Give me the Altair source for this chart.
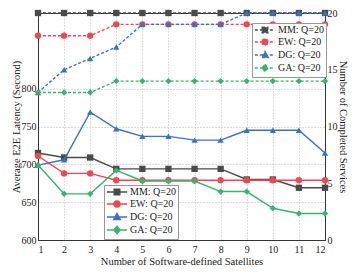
import altair as alt
import pandas as pd

sats = list(range(1, 13))
series = ["MM: Q=20", "EW: Q=20", "DG: Q=20", "GA: Q=20"]
colors = ["#4a4a4a", "#ef4650", "#3a72c2", "#3bb26e"]
shapes = ["square", "circle", "triangle-up", "diamond"]

# latency (left axis, solid lines)
mm_lat = [715, 709, 709, 694, 694, 694, 694, 694, 680, 680, 669, 669]
ew_lat = [711, 688, 688, 679, 679, 679, 679, 679, 679, 679, 679, 679]
dg_lat = [699, 706, 769, 747, 737, 737, 732, 732, 745, 745, 745, 715]
ga_lat = [699, 661, 661, 692, 678, 678, 678, 664, 664, 642, 635, 635]

# completed services (right axis, dashed lines)
mm_srv = [20, 20, 20, 20, 20, 20, 20, 20, 20, 20, 20, 20]
ew_srv = [18, 18, 18, 19, 19, 19, 19, 19, 19, 19, 19, 19]
dg_srv = [13, 15, 16, 17, 19, 19, 19, 19, 20, 20, 20, 20]
ga_srv = [13, 13, 13, 14, 14, 14, 14, 14, 14, 14, 14, 14]

lat_ticks = [600, 650, 700, 750, 800]
srv_ticks = [0, 5, 10, 15, 20]

rows = []
for s, lat, srv in zip(series, [mm_lat, ew_lat, dg_lat, ga_lat], [mm_srv, ew_srv, dg_srv, ga_srv]):
    for x, a, b in zip(sats, lat, srv):
        rows.append({"sat": x, "series": s, "lat": a, "srv": b})
df = pd.DataFrame(rows)

FONT = "Liberation Serif"

# legend symbols: a short line with the marker on it
legend_paths = [
    "M-2.9,0H2.9M-0.8,-0.8H0.8V0.8H-0.8Z",
    "M-2.9,0H2.9M-0.9,0A0.9,0.9 0 1,0 0.9,0A0.9,0.9 0 1,0 -0.9,0Z",
    "M-2.9,0H2.9M0,-1L0.95,0.75H-0.95Z",
    "M-2.9,0H2.9M0,-1.05L0.9,0L0,1.05L-0.9,0Z",
]

x_enc = alt.X("sat:Q", scale=alt.Scale(domain=[1, 12], nice=False),
              axis=alt.Axis(values=sats, title="Number of Software-defined Satellites",
                            grid=True, gridDash=[1, 2], gridColor="#bbbbbb",
                            ticks=False, labelPadding=4, titlePadding=2))

def group(field, dom, ticks, orient, title, dash, lx, ly, grid):
    y_enc = alt.Y(f"{field}:Q", scale=alt.Scale(domain=dom, nice=False),
                  axis=alt.Axis(values=ticks, orient=orient, title=title, grid=grid,
                                gridDash=[1, 2], gridColor="#bbbbbb", ticks=False,
                                labelPadding=2, titlePadding=0))
    base = alt.Chart(df)
    layers = []
    for s, shp, col in zip(series, shapes, colors):
        sub = base.transform_filter(alt.datum.series == s)
        line_kw = {"strokeWidth": 1.4, "color": col}
        if dash:
            line_kw["strokeDash"] = [3, 2]
        layers.append(sub.mark_line(**line_kw).encode(x=x_enc, y=y_enc))
        layers.append(sub.mark_point(shape=shp, filled=True, size=40, opacity=1,
                                     color=col).encode(x=x_enc, y=y_enc))
    leg = alt.Legend(title=None, orient="none", legendX=lx, legendY=ly,
                     symbolSize=49, symbolStrokeWidth=1.4, symbolOpacity=1,
                     symbolOffset=6, labelOffset=8,
                     labelFont=FONT, labelFontSize=10, labelColor="#222",
                     strokeColor="#999", fillColor="white", padding=2, rowPadding=0,
                     **({"symbolDash": [3, 2]} if dash else {}))
    cscale = alt.Scale(domain=series, range=colors)
    dummy = base.mark_point(filled=True, opacity=0).encode(
        x=x_enc, y=y_enc,
        fill=alt.Fill("series:N", scale=cscale, legend=leg),
        stroke=alt.Stroke("series:N", scale=cscale, legend=leg),
        shape=alt.Shape("series:N", scale=alt.Scale(domain=series, range=legend_paths), legend=leg))
    layers.append(dummy)
    return alt.layer(*layers)

left = group("lat", [600, 900], lat_ticks, "left", "Average E2E Latency (Second)", False, 66, 172, True)
right = group("srv", [0, 20], srv_ticks, "right", "Number of Completed Services", True, 214, 10, False)

chart = alt.layer(left, right).resolve_scale(
    y="independent", fill="independent", stroke="independent", shape="independent"
).properties(
    width=287, height=227,
    autosize=alt.AutoSizeParams(type="none"),
    padding={"left": 30, "top": 5, "right": 24, "bottom": 27},
).configure_view(stroke="#333", strokeWidth=1).configure_axis(
    labelFont=FONT, titleFont=FONT, labelFontSize=10, titleFontSize=10.5,
    titleFontWeight="normal", labelColor="#222", titleColor="#222",
    domainColor="#333", tickColor="#333",
)

chart.save("out.html", embed_options={"renderer": "svg", "actions": False})
